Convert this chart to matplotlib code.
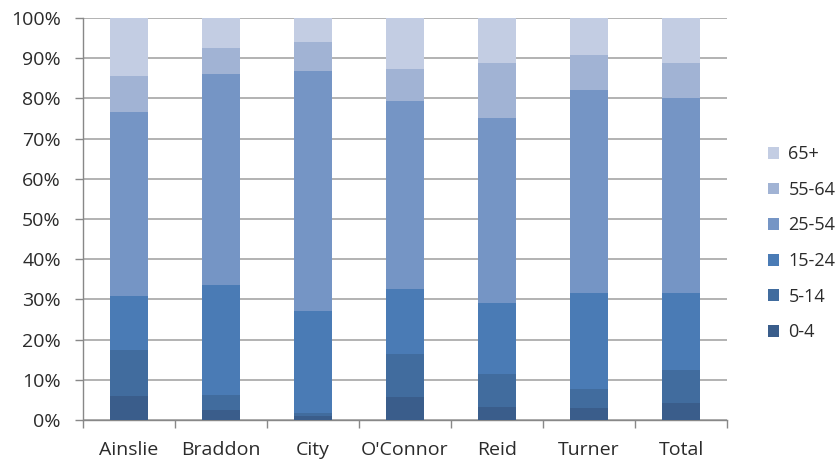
import matplotlib
matplotlib.use("Agg")
import matplotlib.pyplot as plt
import numpy as np

categories = ["Ainslie", "Braddon", "City", "O'Connor", "Reid", "Turner", "Total"]
series_names = ["0-4", "5-14", "15-24", "25-54", "55-64", "65+"]
v_0_4   = [5.9, 2.4, 1.1, 5.7, 3.2, 3.1, 4.2]
v_5_14  = [11.6, 3.7, 0.7, 10.7, 8.3, 4.7, 8.2]
v_15_24 = [13.4, 27.4, 25.4, 16.1, 17.7, 23.7, 19.1]
v_25_54 = [45.8, 52.5, 59.7, 46.8, 45.9, 50.5, 48.7]
v_55_64 = [8.8, 6.6, 7.1, 7.9, 13.8, 8.7, 8.7]
v_65p   = [14.5, 7.4, 6.0, 12.8, 11.1, 9.3, 11.1]
series = [v_0_4, v_5_14, v_15_24, v_25_54, v_55_64, v_65p]
colors = ["#3A5D8B", "#416C9E", "#4A7BB5", "#7595C5", "#A1B3D4", "#C3CDE3"]

plt.rcParams['font.family'] = ['Open Sans', 'DejaVu Sans']
txt_color = "#2B2B2B"

fig = plt.figure(figsize=(8.36, 4.59), dpi=100)
ax = fig.add_axes([83/836, 1 - 420/459, (727-83)/836, (420-18)/459])

x = np.arange(len(categories))
bottom = np.zeros(len(categories))
handles = []
for name, vals, c in zip(series_names, series, colors):
    vals = np.array(vals, dtype=float)
    h = ax.bar(x, vals, width=0.41, bottom=bottom, color=c, label=name, zorder=3)
    handles.append(h)
    bottom += vals

ax.set_xlim(-0.5, len(categories) - 0.5)
ax.set_ylim(0, 100)
ax.set_yticks(np.arange(0, 101, 10))
ax.set_yticklabels([f"{v}%" for v in range(0, 101, 10)], fontsize=14, color=txt_color)
ax.yaxis.grid(True, color="#A6A6A6", linewidth=1.2, zorder=0)
ax.set_xticks(x)
ax.set_xticklabels(categories, fontsize=14, color=txt_color)
ax.tick_params(axis='x', length=0, pad=15)
ax.set_xticks(np.arange(-0.5, len(categories), 1), minor=True)
ax.tick_params(axis='x', which='minor', length=6, color="#888888", width=1)
ax.tick_params(axis='y', length=6, color="#888888", width=1, pad=10)
for s in ["top", "right"]:
    ax.spines[s].set_visible(False)
for s in ["left", "bottom"]:
    ax.spines[s].set_color("#888888")
    ax.spines[s].set_linewidth(1)

leg = fig.legend(handles[::-1], series_names[::-1], loc="upper left",
                 bbox_to_anchor=(761/836, 1 - 138/459), frameon=False,
                 fontsize=13, handlelength=0.62, handleheight=0.62,
                 handletextpad=0.5, labelspacing=0.975, borderaxespad=0)
for t in leg.get_texts():
    t.set_color(txt_color)

fig.savefig("out.png", dpi=100)
